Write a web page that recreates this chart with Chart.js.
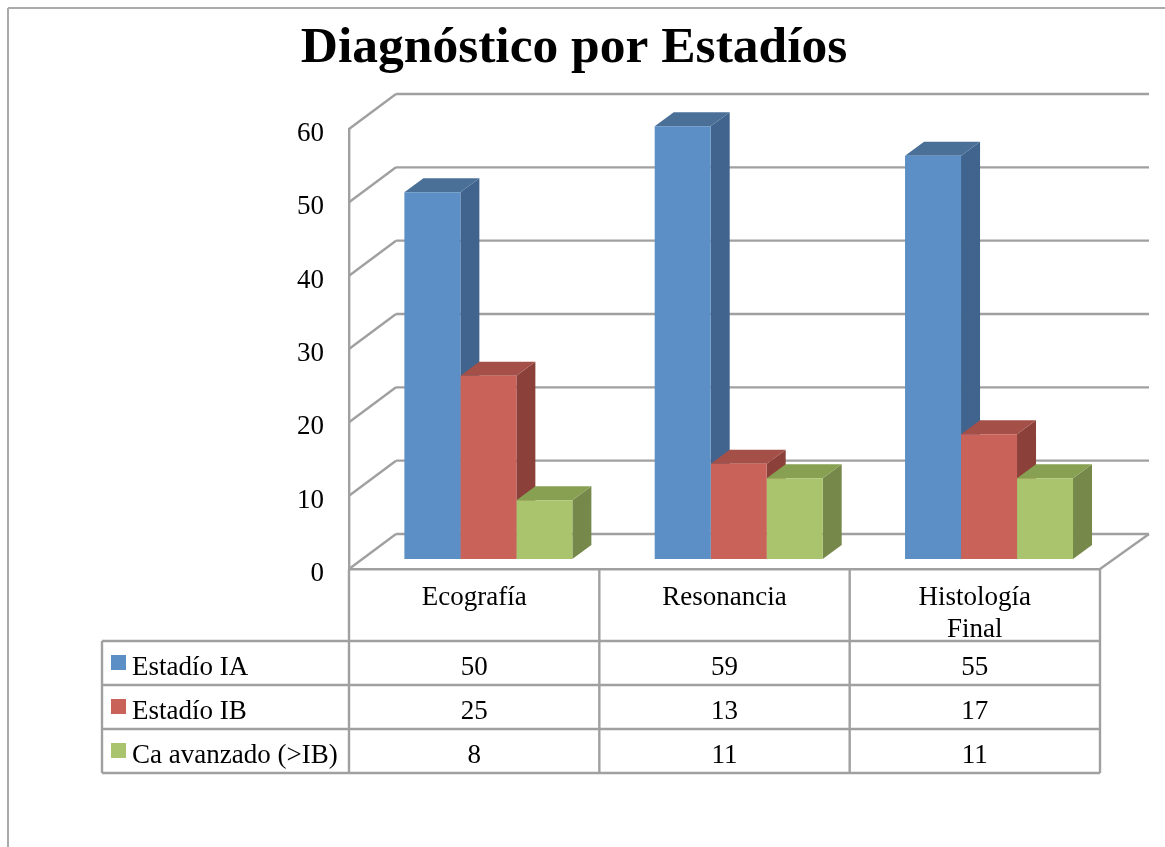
<!DOCTYPE html>
<html>
<head>
  <title>Diagnóstico por Estadíos</title>
  <style>
    body { margin: 0; background: #fff; }
    canvas { display: block; }
  </style>
</head>
<body>
  <canvas id="stagesChart" width="1165" height="847"></canvas>

  <script src="https://cdn.jsdelivr.net/npm/chart.js"></script>
  <script>
    const categories = [["Ecografía"], ["Resonancia"], ["Histología", "Final"]];
    const seriesNames = ["Estadío IA", "Estadío IB", "Ca avanzado (>IB)"];
    const estadioIA = [50, 59, 55];
    const estadioIB = [25, 13, 17];
    const caAvanzado = [8, 11, 11];
    const yTicks = [0, 10, 20, 30, 40, 50, 60];

    const frontColors = ["#5b8fc5", "#c9635a", "#a9c46c"];
    const topColors = ["#4a7098", "#a44f47", "#87a052"];
    const sideColors = ["#41648e", "#8b403a", "#76894a"];
    const lineColor = "#a0a0a0";
    const lineWidth = 2.4;
    const fontFamily = "'Liberation Serif', serif";
    const labelFont = "27px " + fontFamily;

    // fake 3D: wall offset from the axis plane, bar offset, bar depth
    const wall = { dx: 47, dy: -35, rightExtra: 2 };
    const barShift = { dx: 14.2, dy: -10 };
    const barDepth = { dx: 19, dy: -14 };

    function strokeLine(ctx, x1, y1, x2, y2) {
      ctx.beginPath();
      ctx.moveTo(x1, y1);
      ctx.lineTo(x2, y2);
      ctx.stroke();
    }

    function fillQuad(ctx, color, pts) {
      ctx.fillStyle = color;
      ctx.beginPath();
      pts.forEach(([x, y], i) => i ? ctx.lineTo(x, y) : ctx.moveTo(x, y));
      ctx.closePath();
      ctx.fill();
    }

    const pageFrame = {
      id: "pageFrame",
      beforeDraw(chart) {
        const ctx = chart.ctx;
        ctx.save();
        ctx.strokeStyle = "#aaa";
        ctx.lineWidth = 2;
        strokeLine(ctx, 8, 8, chart.width, 8);
        strokeLine(ctx, 8, 8, 8, chart.height);
        ctx.restore();
      }
    };

    // diagonal ticks, back wall lines and floor
    const walls = {
      id: "walls",
      beforeDatasetsDraw(chart) {
        const ctx = chart.ctx;
        const { left, right, bottom } = chart.chartArea;
        const backRight = right + wall.dx + wall.rightExtra;
        ctx.save();
        ctx.strokeStyle = lineColor;
        ctx.lineWidth = lineWidth;
        yTicks.forEach(v => {
          const y = chart.scales.y.getPixelForValue(v);
          strokeLine(ctx, left, y, left + wall.dx, y + wall.dy);
          strokeLine(ctx, left + wall.dx, y + wall.dy, backRight, y + wall.dy);
        });
        strokeLine(ctx, right, bottom, backRight, bottom + wall.dy);
        ctx.restore();
      }
    };

    // sides and tops are painted left to right, then the bar elements add the fronts
    const bars3d = {
      id: "bars3d",
      beforeDatasetsDraw(chart) {
        const ctx = chart.ctx;
        ctx.save();
        ctx.translate(barShift.dx, barShift.dy);
        chart.data.datasets.forEach((ds, i) => {
          chart.getDatasetMeta(i).data.forEach(bar => {
            const p = bar.getProps(["x", "y", "base", "width"], true);
            const l = p.x - p.width / 2;
            const r = p.x + p.width / 2;
            const bx = barDepth.dx, by = barDepth.dy;
            fillQuad(ctx, sideColors[i], [[r, p.y], [r + bx, p.y + by], [r + bx, p.base + by], [r, p.base]]);
            fillQuad(ctx, topColors[i], [[l, p.y], [l + bx, p.y + by], [r + bx, p.y + by], [r, p.y]]);
          });
        });
      },
      afterDatasetsDraw(chart) {
        chart.ctx.restore();
      }
    };

    // data table under the category labels
    const dataTable = {
      id: "dataTable",
      afterDraw(chart) {
        const ctx = chart.ctx;
        const { left, right, bottom } = chart.chartArea;
        const tableLeft = 102, headBottom = 641, rowH = 44;
        const step = (right - left) / categories.length;
        const tableBottom = headBottom + rowH * seriesNames.length;
        ctx.save();
        ctx.strokeStyle = lineColor;
        ctx.lineWidth = lineWidth;
        for (let c = 0; c <= categories.length; c++) {
          strokeLine(ctx, left + c * step, bottom, left + c * step, tableBottom);
        }
        strokeLine(ctx, tableLeft, headBottom, tableLeft, tableBottom);
        for (let r = 0; r <= seriesNames.length; r++) {
          strokeLine(ctx, tableLeft, headBottom + r * rowH, right, headBottom + r * rowH);
        }
        ctx.font = labelFont;
        ctx.textBaseline = "middle";
        chart.data.datasets.forEach((ds, r) => {
          const midY = headBottom + r * rowH + rowH / 2;
          ctx.fillStyle = frontColors[r];
          ctx.fillRect(111, midY - 8, 15, 15);
          ctx.fillStyle = "#000";
          ctx.textAlign = "left";
          ctx.fillText(seriesNames[r], 132, midY + 5);
          ctx.textAlign = "center";
          ds.data.forEach((v, c) => {
            ctx.fillText(v, chart.scales.x.getPixelForValue(c), midY + 5);
          });
        });
        ctx.restore();
      }
    };

    // title is centred on its own line, y labels sit a little under their ticks
    const layoutTweaks = {
      id: "layoutTweaks",
      afterLayout(chart) {
        chart.titleBlock.left = 0;
        chart.titleBlock.right = 1148;
        chart.scales.y.getLabelItems().forEach(item => {
          item.options.translation[1] += 5;
        });
      }
    };

    new Chart(document.getElementById("stagesChart"), {
      type: "bar",
      data: {
        labels: categories,
        datasets: [
          { label: seriesNames[0], data: estadioIA, backgroundColor: frontColors[0] },
          { label: seriesNames[1], data: estadioIB, backgroundColor: frontColors[1] },
          { label: seriesNames[2], data: caAvanzado, backgroundColor: frontColors[2] }
        ]
      },
      plugins: [pageFrame, walls, bars3d, dataTable, layoutTweaks],
      options: {
        responsive: false,
        animation: false,
        clip: false,
        categoryPercentage: 0.671,
        barPercentage: 1,
        layout: { padding: { left: 0, right: 65, top: 0, bottom: 0 } },
        plugins: {
          legend: { display: false },
          tooltip: { enabled: false },
          title: {
            display: true,
            text: "Diagnóstico por Estadíos",
            color: "#000",
            font: { family: fontFamily, size: 51.5, weight: "bold", lineHeight: 1 },
            padding: { top: 23, bottom: 54.5 }
          }
        },
        scales: {
          x: {
            afterFit(scale) { scale.height = 278; },
            grid: { display: false, drawTicks: false },
            border: { display: true, color: lineColor, width: lineWidth },
            ticks: { color: "#000", font: { family: fontFamily, size: 27, lineHeight: 1.18 }, padding: 13, maxRotation: 0 }
          },
          y: {
            min: 0,
            max: 60,
            afterFit(scale) { scale.width = 349; },
            grid: { display: false, drawTicks: false },
            border: { display: true, color: lineColor, width: lineWidth },
            ticks: { stepSize: 10, color: "#000", font: { family: fontFamily, size: 27 }, padding: 25 }
          }
        }
      }
    });
  </script>
</body>
</html>
